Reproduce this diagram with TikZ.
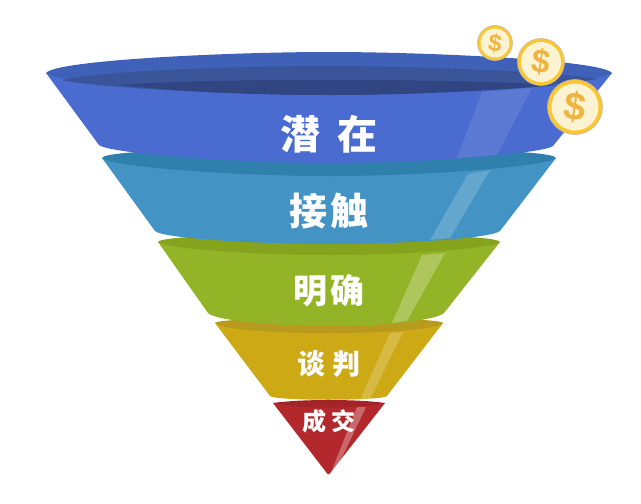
\documentclass[tikz,border=0pt]{standalone}
\usepackage{fontspec}
\newfontfamily\cjk{Noto Sans CJK SC}
\newfontfamily\coinfont{Liberation Sans}
\tikzset{
  label text/.style={text=white,font=\cjk\bfseries,inner sep=0pt},
  gloss/.style={fill=white,draw=none},
  coin/.style={circle,draw=coinedge,fill=coinrim,line width=.6pt,inner sep=0pt},
  coin face/.style={circle,fill=coinface,inner sep=0pt,text=coindollar,rotate=-8},
}
\definecolor{coinrim}{HTML}{FBC62E}
\definecolor{coinedge}{HTML}{C9B7B0}
\definecolor{coinface}{HTML}{FBF3D2}
\definecolor{coindollar}{HTML}{EDB440}
\definecolor{bluebody}{HTML}{4A6CD0}
\definecolor{bluerim}{HTML}{3F62B8}
\definecolor{bluein}{HTML}{3A5599}
\definecolor{bluedeep}{HTML}{304582}
\definecolor{tealbody}{HTML}{4394C4}
\definecolor{tealrim}{HTML}{2F80AD}
\definecolor{greenbody}{HTML}{93B426}
\definecolor{greenrim}{HTML}{85A31C}
\definecolor{yellowbody}{HTML}{CCA915}
\definecolor{yellowrim}{HTML}{B89A1E}
\definecolor{redbody}{HTML}{B2282C}
\definecolor{redrim}{HTML}{A22428}
\begin{document}
\begin{tikzpicture}[x=1pt,y=-1pt]
\useasboundingbox (0,0) rectangle (641,504);
\fill[white] (0,0) rectangle (641,504);

% red tier
\fill[redbody] (273,403) -- (385,403) -- (331,472) .. controls (329,475) and (328,475) .. (326,472) -- cycle;
\fill[redrim] (273,403) .. controls (300,409) and (358,409) .. (385,403) .. controls (358,399) and (300,399) .. (273,403) -- cycle;
\fill[gloss,opacity=.3] (357,407) -- (366,407) -- (336,470) -- (332,470) -- cycle;

% yellow tier
\fill[yellowbody] (215,323) -- (270,396) .. controls (274,401) and (382,401) .. (387,396) -- (443,323) -- cycle;
\fill[yellowrim] (215,323) .. controls (216,320) and (260,318) .. (329,318) .. controls (398,318) and (442,320) .. (443,323) .. controls (438,329) and (390,333) .. (329,333) .. controls (268,333) and (220,329) .. (215,323) -- cycle;
\fill[gloss,opacity=.2] (390,333) -- (403,332) -- (370,399) -- (360,400) -- cycle;

% green tier
\fill[greenbody] (158,242) -- (208,313) .. controls (214,320) and (270,326) .. (329,326) .. controls (388,326) and (436,320) .. (444,313) -- (500,242) -- cycle;
\fill[greenrim] (158,242) .. controls (160,236) and (250,234) .. (329,234) .. controls (408,234) and (498,236) .. (500,242) .. controls (494,248) and (410,255) .. (329,255) .. controls (248,255) and (164,248) .. (158,242) -- cycle;
\fill[gloss,opacity=.25] (422,255) -- (445,253) -- (407,321) -- (392,323) -- cycle;

% teal tier
\fill[tealbody] (102,158) -- (155,231) .. controls (162,238) and (250,244) .. (329,244) .. controls (408,244) and (492,238) .. (500,231) -- (556,158) -- cycle;
\fill[tealrim] (102,158) .. controls (104,150) and (230,148) .. (329,148) .. controls (428,148) and (554,150) .. (556,158) .. controls (550,166) and (430,176) .. (329,176) .. controls (228,176) and (108,166) .. (102,158) -- cycle;
\fill[gloss,opacity=.18] (468,174) -- (490,170) -- (450,238) -- (430,240) -- cycle;

% blue tier
\fill[bluebody] (46,73) -- (99,145) .. controls (108,153) and (230,163) .. (329,163) .. controls (428,163) and (546,153) .. (553,146) -- (612,73) -- cycle;
\fill[bluerim] (46,73) .. controls (56,60) and (230,52) .. (329,52) .. controls (428,52) and (602,60) .. (612,73) .. controls (606,81) and (440,95) .. (329,95) .. controls (218,95) and (56,83) .. (46,73) -- cycle;
\fill[bluein] (62,80) .. controls (110,70) and (240,66) .. (329,66) .. controls (420,66) and (560,72) .. (598,79) .. controls (560,85) and (430,95) .. (329,95) .. controls (228,95) and (90,87) .. (62,80) -- cycle;
\fill[bluedeep] (120,85) .. controls (190,80) and (270,80) .. (345,80) .. controls (430,80) and (500,82) .. (560,85) .. controls (500,90) and (420,95) .. (329,95) .. controls (250,95) and (170,91) .. (120,85) -- cycle;
\fill[gloss,opacity=.1] (482,92) -- (532,88) -- (497,155) -- (457,158) -- cycle;

% labels
\node[label text,font=\cjk\bfseries\fontsize{40}{40}\selectfont] (qianzai) at (329,134) {潜\hspace{.45em}在};
\node[label text,font=\cjk\bfseries\fontsize{38}{38}\selectfont] (jiechu) at (329,211) {接\hspace{.08em}触};
\node[label text,font=\cjk\bfseries\fontsize{34}{34}\selectfont] (mingque) at (329,291) {明\hspace{.08em}确};
\node[label text,font=\cjk\bfseries\fontsize{28}{28}\selectfont] (tanpan) at (329,364) {谈\hspace{.25em}判};
\node[label text,font=\cjk\bfseries\fontsize{24}{24}\selectfont] (chengjiao) at (329,421) {成\hspace{.2em}交};

% coins
\node[coin,minimum size=35pt] (coina) at (495,43) {};
\node[coin face,minimum size=29pt,font=\coinfont\bfseries\fontsize{24}{24}\selectfont] (coinaface) at (coina) {\$};
\node[coin,minimum size=47pt] (coinb) at (541,62) {};
\node[coin face,minimum size=40pt,font=\coinfont\bfseries\fontsize{33}{33}\selectfont] (coinbface) at (coinb) {\$};
\node[coin,minimum size=55pt] (coinc) at (575,107) {};
\node[coin face,minimum size=47pt,font=\coinfont\bfseries\fontsize{39}{39}\selectfont] (coincface) at (coinc) {\$};
\end{tikzpicture}
\end{document}
